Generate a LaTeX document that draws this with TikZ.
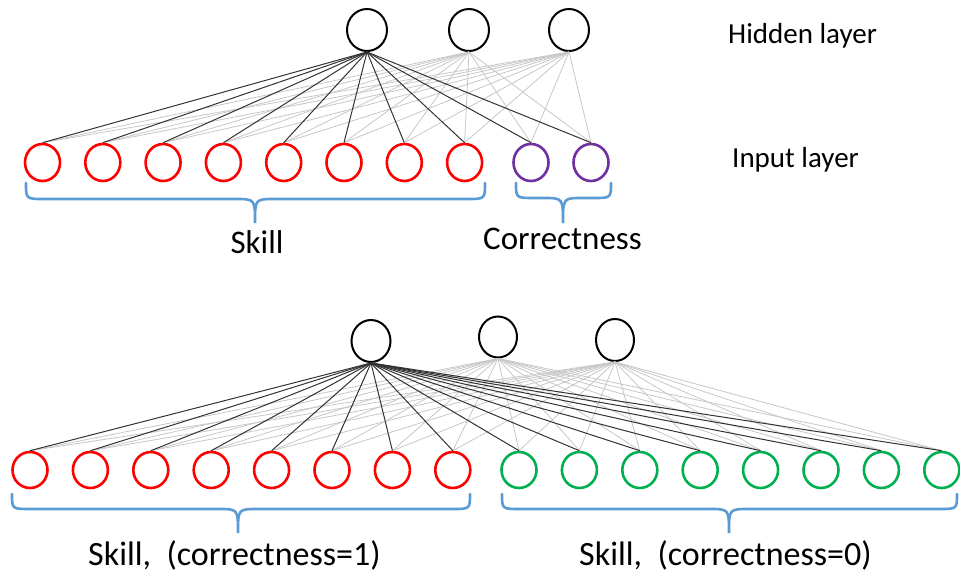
\documentclass[tikz,border=0pt]{standalone}
\usepackage{fontspec}
\setmainfont{Carlito}
\usetikzlibrary{shapes.geometric}
\definecolor{braceblue}{HTML}{5B9BD5}
\definecolor{skillred}{HTML}{FF0000}
\definecolor{corrpurple}{HTML}{7030A0}
\definecolor{corrgreen}{HTML}{00B050}
\newcommand\mybrace[6]{%
  \draw[bracestyle] (#1,#4) .. controls (#1,#5) .. ({#1+18},#5) -- ({#3-20},#5)
    .. controls (#3,#5) .. (#3,#6) .. controls (#3,#5) .. ({#3+20},#5)
    -- ({#2-18},#5) .. controls (#2,#5) .. (#2,#4);}
\begin{document}
\begin{tikzpicture}[x=1bp,y=-1bp,
  hid/.style={ellipse, draw=black, line width=2bp, inner sep=0pt, fill=white},
  inp/.style={ellipse, line width=2.6bp, inner sep=0pt, fill=white},
  darkedge/.style={draw=black!80, line width=1bp},
  lightedge/.style={draw=black!22, line width=0.8bp},
  bracestyle/.style={draw=braceblue, line width=2.6bp, line cap=round},
  biglabel/.style={font=\fontsize{33bp}{38bp}\selectfont, inner sep=0pt},
  botlabel/.style={font=\fontsize{34bp}{40bp}\selectfont, inner sep=0pt},
  sidelabel/.style={font=\fontsize{29bp}{34bp}\selectfont, inner sep=0pt}]
\useasboundingbox (0,0) rectangle (960,576);

% ---------- top network ----------
\foreach \x [count=\i] in {367,469,569}
  \node[hid, minimum width=40bp, minimum height=42bp] (th\i) at (\x,30) {};
\foreach \x [count=\i] in {42.5,102.8,163.1,223.4,283.7,344,404.3,464.6}
  \node[inp, draw=skillred, minimum width=35bp, minimum height=37bp] (ti\i) at (\x,162.5) {};
\node[inp, draw=corrpurple, minimum width=35bp, minimum height=37bp] (ti9) at (531,162.5) {};
\node[inp, draw=corrpurple, minimum width=35bp, minimum height=37bp] (ti10) at (591,162.5) {};

\foreach \h in {2,3}
  \foreach \i in {1,...,10}
    \draw[lightedge] (th\h.south) -- (ti\i.north);
\foreach \i in {1,...,10}
  \draw[darkedge] (th1.south) -- (ti\i.north);

\mybrace{26}{485}{255}{183}{199}{223}
\mybrace{516}{611}{563}{183}{198}{223}

\node[biglabel, anchor=base] (skilltop) at (257,254) {Skill};
\node[biglabel, anchor=base west] (corrtop) at (483,250) {Correctness};
\node[sidelabel, anchor=base west] (hidlab) at (728,44) {Hidden layer};
\node[sidelabel, anchor=base west] (inplab) at (732,168) {Input layer};

% ---------- bottom network ----------
\node[hid, minimum width=39bp, minimum height=42bp] (bh1) at (371,341) {};
\node[hid, minimum width=38bp, minimum height=41bp] (bh2) at (498,337) {};
\node[hid, minimum width=38bp, minimum height=42bp] (bh3) at (615,340) {};
\foreach \x [count=\i] in {30,90.4,150.8,211.2,271.6,332,392.4,452.8}
  \node[inp, draw=skillred, minimum width=35bp, minimum height=36bp] (bi\i) at (\x,470) {};
\foreach \x [count=\j] in {519,579.4,639.8,700.2,760.6,821,881.4,941.8}{
  \pgfmathtruncatemacro\k{\j+8}
  \node[inp, draw=corrgreen, minimum width=35bp, minimum height=36bp] (bi\k) at (\x,470) {};}

\foreach \h in {2,3}
  \foreach \i in {1,...,16}
    \draw[lightedge] (bh\h.south) -- (bi\i.north);
\foreach \i in {1,...,16}
  \draw[darkedge] (bh1.south) -- (bi\i.north);

\mybrace{12}{470}{238}{494}{509}{533}
\mybrace{502}{957}{729}{494}{509}{533}

\node[botlabel, anchor=base west] (skill1) at (88,565) {Skill,\ \ (correctness=1)};
\node[botlabel, anchor=base west] (skill0) at (579,565) {Skill,\ \ (correctness=0)};
\end{tikzpicture}
\end{document}
